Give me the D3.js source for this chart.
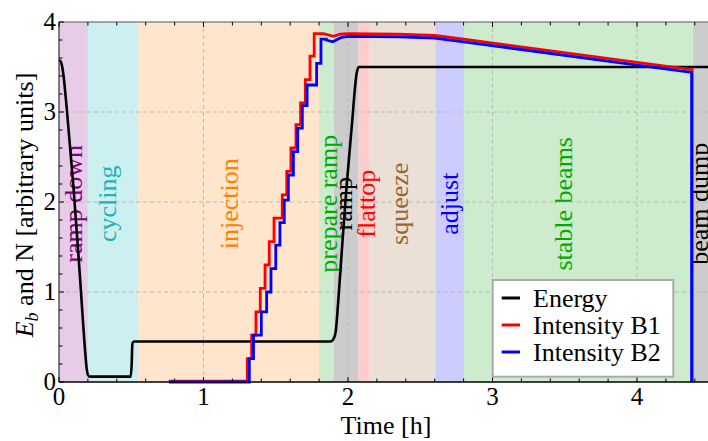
<!DOCTYPE html>
<html><head><meta charset="utf-8">
<script src="https://cdn.jsdelivr.net/npm/d3@7"></script>
<style>
html,body{margin:0;padding:0;background:#fff;}
svg{display:block;}
</style></head>
<body>
<svg id="chart" width="708" height="441" font-family="'Liberation Serif', Tinos, 'Times New Roman', Times, 'Nimbus Roman', serif"></svg>
<script>
// ---- data ----
const phaseNames = ["ramp down","cycling","injection","prepare ramp","ramp","flattop","squeeze","adjust","stable beams","beam dump"];
const phaseStart = [0, 0.2, 0.55, 1.8, 1.903, 2.074, 2.15, 2.604, 2.803, 4.388];
const phaseEnd   = [0.2, 0.55, 1.8, 1.903, 2.074, 2.15, 2.604, 2.803, 4.388, 4.5];
const labelTime  = [0.104, 0.339, 1.183, 1.869, 1.972, 2.131, 2.36, 2.706, 3.495, 4.436];
const labelValue = 1.98;

const energyTime  = [0, 0.015, 0.03, 0.053, 0.1, 0.145, 0.18, 0.19, 0.2, 0.212, 0.497, 0.503, 0.508, 0.52, 1.88, 1.9, 1.915, 1.933, 1.956, 1.99, 2.026, 2.06, 2.074, 4.5];
const energyValue = [3.58, 3.55, 3.42, 3.05, 2.17, 1.17, 0.36, 0.17, 0.08, 0.06, 0.06, 0.2, 0.43, 0.45, 0.45, 0.48, 0.56, 0.91, 1.43, 2.17, 2.84, 3.43, 3.5, 3.5];

// intensity B1: step part (step-after) then smooth tail
const b1StepTime  = [0.76, 1.303, 1.333, 1.363, 1.393, 1.426, 1.455, 1.488, 1.545, 1.576, 1.605, 1.64, 1.672, 1.705, 1.737, 1.766];
const b1StepValue = [0.01, 0.26, 0.52, 0.78, 1.04, 1.30, 1.56, 1.82, 2.08, 2.34, 2.60, 2.86, 3.10, 3.36, 3.62, 3.87];
const b1TailTime  = [1.83, 1.9, 1.945, 2.0, 2.35, 2.6, 2.8, 4.382, 4.382];
const b1TailValue = [3.87, 3.84, 3.865, 3.87, 3.865, 3.85, 3.81, 3.47, 0];

const b2StepTime  = [0.76, 1.317, 1.346, 1.40, 1.437, 1.467, 1.50, 1.529, 1.559, 1.587, 1.622, 1.652, 1.684, 1.717, 1.783, 1.813];
const b2StepValue = [0.0, 0.26, 0.52, 0.78, 1.0, 1.26, 1.52, 1.77, 2.02, 2.30, 2.56, 2.82, 3.07, 3.30, 3.54, 3.81];
const b2TailTime  = [1.85, 1.895, 1.956, 2.0, 2.35, 2.6, 2.8, 4.378, 4.378];
const b2TailValue = [3.80, 3.78, 3.83, 3.84, 3.835, 3.82, 3.78, 3.44, 0];

const seriesNames = ["Energy", "Intensity B1", "Intensity B2"];
const xTicks = [0, 1, 2, 3, 4];
const yTicks = [0, 1, 2, 3, 4];

// ---- styles ----
const phaseFill = ["#e6cce6","#ccefef","#ffe5cc","#cdeccd","#cccccc","#ffcccc","#ebe0d6","#ccccff","#cdeccd","#cccccc"];
const phaseText = ["#800080","#1fb3b3","#ff8000","#00aa00","#000000","#ff0000","#996633","#0000ff","#00aa00","#000000"];
const seriesColor = ["#000000","#ff0000","#0000ff"];

const svg = d3.select("#chart");
const x = d3.scaleLinear().domain([0, 4.5]).range([59, 709.25]);
const y = d3.scaleLinear().domain([0, 4]).range([382, 22]);

// phases
svg.append("g").selectAll("rect").data(phaseNames).join("rect")
  .attr("x", (d,i) => x(phaseStart[i]))
  .attr("y", y(4))
  .attr("width", (d,i) => x(phaseEnd[i]) - x(phaseStart[i]))
  .attr("height", y(0) - y(4))
  .attr("fill", (d,i) => phaseFill[i]);

// grid
const grid = svg.append("g").attr("stroke", "#b8b8b8").attr("stroke-width", 1).attr("stroke-dasharray", "4,3");
xTicks.filter(t => t > 0).forEach(t => grid.append("line").attr("x1", x(t)).attr("x2", x(t)).attr("y1", y(0)).attr("y2", y(4)));
yTicks.filter(t => t > 0 && t < 4).forEach(t => grid.append("line").attr("x1", x(0)).attr("x2", x(4.5)).attr("y1", y(t)).attr("y2", y(t)));

// phase labels
svg.append("g").selectAll("text").data(phaseNames).join("text")
  .attr("transform", (d,i) => `translate(${x(labelTime[i])},${y(labelValue)}) rotate(-90)`)
  .attr("text-anchor", "middle")
  .attr("dy", "0.3em")
  .attr("font-size", 26)
  .attr("fill", (d,i) => phaseText[i])
  .text(d => d);

// lines
function stepPoints(ts, vs, tailT, tailV) {
  const pts = [];
  ts.forEach((t, i) => {
    if (i > 0) pts.push([t, vs[i-1]]);
    pts.push([t, vs[i]]);
  });
  pts.push([tailT[0], vs[vs.length-1]]);
  tailT.forEach((t, i) => pts.push([t, tailV[i]]));
  return pts;
}
const line = d3.line().x(d => x(d[0])).y(d => y(d[1]));
const energyPts = energyTime.map((t, i) => [t, energyValue[i]]);
const b1Pts = stepPoints(b1StepTime, b1StepValue, b1TailTime, b1TailValue);
const b2Pts = stepPoints(b2StepTime, b2StepValue, b2TailTime, b2TailValue);

const plot = svg.append("g");
plot.append("path").attr("d", d3.line().x(d => x(d[0])).y(d => y(d[1])).curve(d3.curveMonotoneX)(energyPts))
  .attr("fill", "none").attr("stroke", seriesColor[0]).attr("stroke-width", 2.6);
plot.append("path").attr("d", line(b1Pts))
  .attr("fill", "none").attr("stroke", seriesColor[1]).attr("stroke-width", 2.8);
plot.append("path").attr("d", line(b2Pts))
  .attr("fill", "none").attr("stroke", seriesColor[2]).attr("stroke-width", 2.8);

// frame
svg.append("line").attr("x1", x(0)).attr("x2", 708).attr("y1", y(4)).attr("y2", y(4)).attr("stroke", "#888").attr("stroke-width", 1.5);
svg.append("line").attr("x1", x(0)).attr("x2", x(0)).attr("y1", y(0)).attr("y2", y(4)).attr("stroke", "#333").attr("stroke-width", 1.2);
svg.append("line").attr("x1", x(0)).attr("x2", 708).attr("y1", y(0)).attr("y2", y(0)).attr("stroke", "#000").attr("stroke-width", 1.3);

// ticks (inward)
const tk = svg.append("g").attr("stroke", "#000").attr("stroke-width", 1);
d3.range(0, 4.5001, 0.2).forEach(t => {
  const len = Math.abs(t - Math.round(t)) < 1e-6 ? 5 : 3.5;
  tk.append("line").attr("x1", x(t)).attr("x2", x(t)).attr("y1", y(0)).attr("y2", y(0) - len);
  tk.append("line").attr("x1", x(t)).attr("x2", x(t)).attr("y1", y(4)).attr("y2", y(4) + len);
});
d3.range(0, 4.0001, 0.2).forEach(v => {
  const len = Math.abs(v - Math.round(v)) < 1e-6 ? 5 : 3.5;
  tk.append("line").attr("x1", x(0)).attr("x2", x(0) + len).attr("y1", y(v)).attr("y2", y(v));
});

// tick labels
svg.append("g").selectAll("text").data(xTicks).join("text")
  .attr("x", d => x(d)).attr("y", 405).attr("text-anchor", "middle").attr("font-size", 25).text(d => d);
svg.append("g").selectAll("text").data(yTicks).join("text")
  .attr("x", 56).attr("y", d => y(d)).attr("dy", "0.33em").attr("text-anchor", "end").attr("font-size", 25).text(d => d);

// axis titles
svg.append("text").attr("x", 386).attr("y", 434).attr("text-anchor", "middle").attr("font-size", 26).text("Time [h]");
const yl = svg.append("text").attr("transform", "translate(33,205) rotate(-90)").attr("text-anchor", "middle").attr("font-size", 26);
yl.append("tspan").attr("font-style", "italic").text("E");
yl.append("tspan").attr("font-style", "italic").attr("font-size", 18).attr("dy", 5).text("b");
yl.append("tspan").attr("dy", -5).text(" and N [arbitrary units]");

// legend
const lg = svg.append("g");
lg.append("rect").attr("x", 492.7).attr("y", 280).attr("width", 180.6).attr("height", 96.7)
  .attr("fill", "#fff").attr("stroke", "#aaa").attr("stroke-width", 2);
seriesNames.forEach((n, i) => {
  const ly = 298 + i * 27;
  lg.append("line").attr("x1", 501.7).attr("x2", 520).attr("y1", ly).attr("y2", ly)
    .attr("stroke", seriesColor[i]).attr("stroke-width", 3);
  lg.append("text").attr("x", 533).attr("y", ly + 9).attr("font-size", 26).text(n);
});
</script>
</body></html>
